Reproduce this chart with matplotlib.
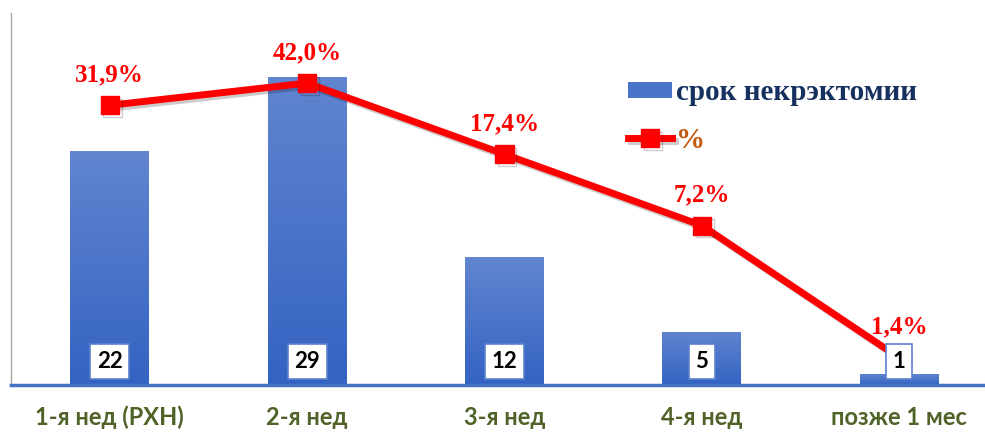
import numpy as np
import matplotlib
matplotlib.use("Agg")
import matplotlib.pyplot as plt
import matplotlib.patheffects as pe
from matplotlib.colors import LinearSegmentedColormap

categories = ["1-я нед (РХН)", "2-я нед", "3-я нед", "4-я нед", "позже 1 мес"]
counts = [22, 29, 12, 5, 1]
percents = [31.9, 42.0, 17.4, 7.2, 1.4]
bar_label = "срок некрэктомии"
line_label = "%"

fig = plt.figure(figsize=(9.85, 4.32), dpi=100)
ax = fig.add_axes([11/985, 47/432, 987/985, 372/432])
x = np.arange(len(categories))

bars = ax.bar(x, counts, width=0.4, color="#4A74C9", zorder=2)
cmap = LinearSegmentedColormap.from_list("g", ["#3363C2", "#6185CF"])
grad = np.linspace(0, 1, 256).reshape(-1, 1)
for r in bars:
    x0, w, h = r.get_x(), r.get_width(), r.get_height()
    im = ax.imshow(grad, extent=[x0, x0 + w, 0, h], origin="lower", aspect="auto",
                   cmap=cmap, zorder=2.1)
    im.set_clip_path(r)
ax.set_xlim(-0.5, 4.5)
ax.set_ylim(0, 35)

ax.set_yticks([])
for s in ["top", "right"]:
    ax.spines[s].set_visible(False)
ax.spines["left"].set_color("#A6A6A6")
ax.spines["left"].set_linewidth(1)
ax.spines["bottom"].set_color("#4472C4")
ax.spines["bottom"].set_linewidth(2.5)
ax.set_xticks(x, labels=categories)
ax.set_xticks(np.arange(-0.5, 4.6, 1), minor=True)
ax.tick_params(axis="x", which="major", length=0, pad=15, labelsize=17, labelcolor="#4F6228")
ax.tick_params(axis="x", which="minor", length=5, width=2, color="#4472C4")
for lbl in ax.get_xticklabels():
    lbl.set_family("Lato")
    lbl.set_fontweight("bold")

ax2 = ax.twinx()
ax2.set_yscale("log")
ax2.set_ylim(1, 100)
ax2.set_yticks([])
ax2.minorticks_off()
for s in ax2.spines.values():
    s.set_visible(False)

ln, = ax2.plot(x, percents, color="red", lw=5, marker="s", ms=13, zorder=3,
               path_effects=[pe.SimpleLineShadow(offset=(2, -2), alpha=0.2), pe.Normal()])

for xi, p in zip(x, percents):
    ax2.annotate(f"{p:.1f}".replace(".", ",") + "%", (xi, p), xytext=(0, 22),
                 textcoords="offset points", ha="center", va="center", color="red",
                 fontsize=18, fontweight="bold", family="Liberation Serif", zorder=6)

for xi, c in zip(x, counts):
    ax2.annotate(str(c), xy=(xi, 0), xycoords=ax.transData, xytext=(0, 17),
                 textcoords="offset points", ha="center", va="center", color="black",
                 fontsize=16, fontweight="bold", family="Lato", zorder=7,
                 bbox=dict(boxstyle="square,pad=0.3", fc="white", ec="#5B80CC", lw=1.2))

leg = ax2.legend(handles=[bars, ln], labels=[bar_label, line_label], loc="upper left",
                 bbox_to_anchor=(602/985, 1 - 53/432), bbox_transform=fig.transFigure,
                 frameon=False, prop=dict(family="Liberation Serif", weight="bold", size=21),
                 labelcolor=["#16305F", "#C55A11"], handlelength=1.5, handleheight=0.5,
                 handletextpad=0.15, labelspacing=0.7)

fig.savefig("out.png", dpi=100)
